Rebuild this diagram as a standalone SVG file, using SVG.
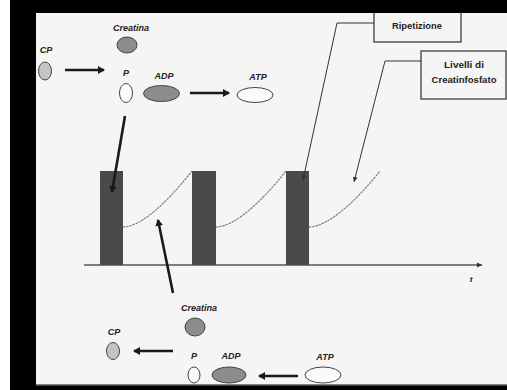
<svg xmlns="http://www.w3.org/2000/svg" width="507" height="390" viewBox="0 0 507 390">
<style>
.lbl{font-family:"Liberation Sans",Arial,sans-serif;font-weight:bold;font-style:italic;font-size:9px;fill:#222;text-anchor:middle}
.box{font-family:"Liberation Sans",Arial,sans-serif;font-weight:bold;font-size:9px;fill:#222;text-anchor:middle}
.gray{fill:#8c8c8c;stroke:#444;stroke-width:1}
.cp{fill:#c4c4c4;stroke:#444;stroke-width:1}
.white{fill:#fafafa;stroke:#444;stroke-width:1}
.thick{stroke:#1a1a1a;stroke-width:2.6;fill:none}
.thin{stroke:#333;stroke-width:1;fill:none}
.curve{stroke:#777;stroke-width:1.1;fill:none;stroke-dasharray:2.5 0.8}
.bar{fill:#4a4a4a}
.callout{fill:#f5f5f5;stroke:#555;stroke-width:1.5}
</style>
<defs>
<marker id="ah" markerWidth="8" markerHeight="8" refX="6" refY="4" orient="auto" markerUnits="userSpaceOnUse">
<path d="M0,0 L7,4 L0,8 Z" fill="#1a1a1a"/>
</marker>
<marker id="ahs" markerWidth="6" markerHeight="6" refX="5" refY="3" orient="auto" markerUnits="userSpaceOnUse">
<path d="M0,0.5 L5,3 L0,5.5 Z" fill="#333"/>
</marker>
</defs>
<rect x="0" y="0" width="507" height="390" fill="#000"/>
<rect x="0" y="0" width="10" height="390" fill="#fff"/>
<rect x="36" y="13" width="471" height="371.5" fill="#f5f5f5"/>
<line x1="36" y1="385" x2="507" y2="385" stroke="#888" stroke-width="1"/>

<g id="chart">
<line x1="84" y1="265" x2="482" y2="265" stroke="#555" stroke-width="1.6" marker-end="url(#ahs)"/>
<text class="lbl" x="471" y="282" style="font-size:8px">t</text>
</g>
<g id="bar1"><rect class="bar" x="100" y="171" width="23" height="94"/></g>
<g id="bar2"><rect class="bar" x="192" y="171" width="24" height="94"/></g>
<g id="bar3"><rect class="bar" x="286" y="171" width="23" height="94"/></g>
<g id="curves">
<path class="curve" d="M123,227 C140,227 165,205 192,171"/>
<path class="curve" d="M216,227 C233,227 259,205 286,171"/>
<path class="curve" d="M309,227 C326,227 353,205 380,171"/>
</g>

<g id="ripetizione">
<rect class="callout" x="374" y="6" width="87" height="36"/>
<text class="box" x="417" y="29" textLength="50" lengthAdjust="spacingAndGlyphs">Ripetizione</text>
</g>
<g id="livelli">
<rect class="callout" x="421" y="51" width="85" height="48"/>
<text class="box" x="464" y="68" textLength="40" lengthAdjust="spacingAndGlyphs">Livelli di</text>
<text class="box" x="464" y="83" textLength="65" lengthAdjust="spacingAndGlyphs">Creatinfosfato</text>
</g>
<rect x="10" y="0" width="497" height="13" fill="#000"/>

<g id="top-creatina">
<text class="lbl" x="131" y="31" textLength="36" lengthAdjust="spacingAndGlyphs">Creatina</text>
<ellipse class="gray" cx="127" cy="45" rx="10" ry="8"/>
</g>
<g id="top-cp">
<text class="lbl" x="46" y="53">CP</text>
<ellipse class="cp" cx="45" cy="71" rx="6.5" ry="9"/>
</g>
<g id="top-p">
<text class="lbl" x="126" y="76">P</text>
<ellipse class="white" cx="126" cy="93" rx="6.5" ry="9.5"/>
</g>
<g id="top-adp">
<text class="lbl" x="164" y="79">ADP</text>
<ellipse class="gray" cx="161.5" cy="93.5" rx="18" ry="8"/>
</g>
<g id="top-atp">
<text class="lbl" x="258" y="80">ATP</text>
<ellipse class="white" cx="255" cy="95" rx="18" ry="7.5"/>
</g>

<g id="bot-creatina">
<text class="lbl" x="199" y="311" textLength="36" lengthAdjust="spacingAndGlyphs">Creatina</text>
<ellipse class="gray" cx="195" cy="327" rx="10" ry="9"/>
</g>
<g id="bot-cp">
<text class="lbl" x="114" y="335">CP</text>
<ellipse class="cp" cx="113" cy="351" rx="6.5" ry="8.5"/>
</g>
<g id="bot-p">
<text class="lbl" x="194" y="359">P</text>
<ellipse class="white" cx="194" cy="375" rx="6" ry="8"/>
</g>
<g id="bot-adp">
<text class="lbl" x="231" y="359">ADP</text>
<ellipse class="gray" cx="229" cy="375" rx="17" ry="8"/>
</g>
<g id="bot-atp">
<text class="lbl" x="325" y="360">ATP</text>
<ellipse class="white" cx="323" cy="375" rx="18" ry="8"/>
</g>

<g id="connectors">
<line class="thick" x1="65" y1="70" x2="104" y2="70" marker-end="url(#ah)"/>
<line class="thick" x1="190" y1="93" x2="229" y2="93" marker-end="url(#ah)"/>
<line class="thick" x1="125" y1="116" x2="112" y2="192" marker-end="url(#ah)"/>
<line class="thick" x1="173" y1="293" x2="158" y2="220" marker-end="url(#ah)"/>
<line class="thick" x1="173" y1="351" x2="134" y2="351" marker-end="url(#ah)"/>
<line class="thick" x1="298" y1="376" x2="259" y2="376" marker-end="url(#ah)"/>
<polyline class="thin" points="374,23 337,23 303,180" marker-end="url(#ahs)"/>
<polyline class="thin" points="421,61 385,61 354,182" marker-end="url(#ahs)"/>
</g>
</svg>
